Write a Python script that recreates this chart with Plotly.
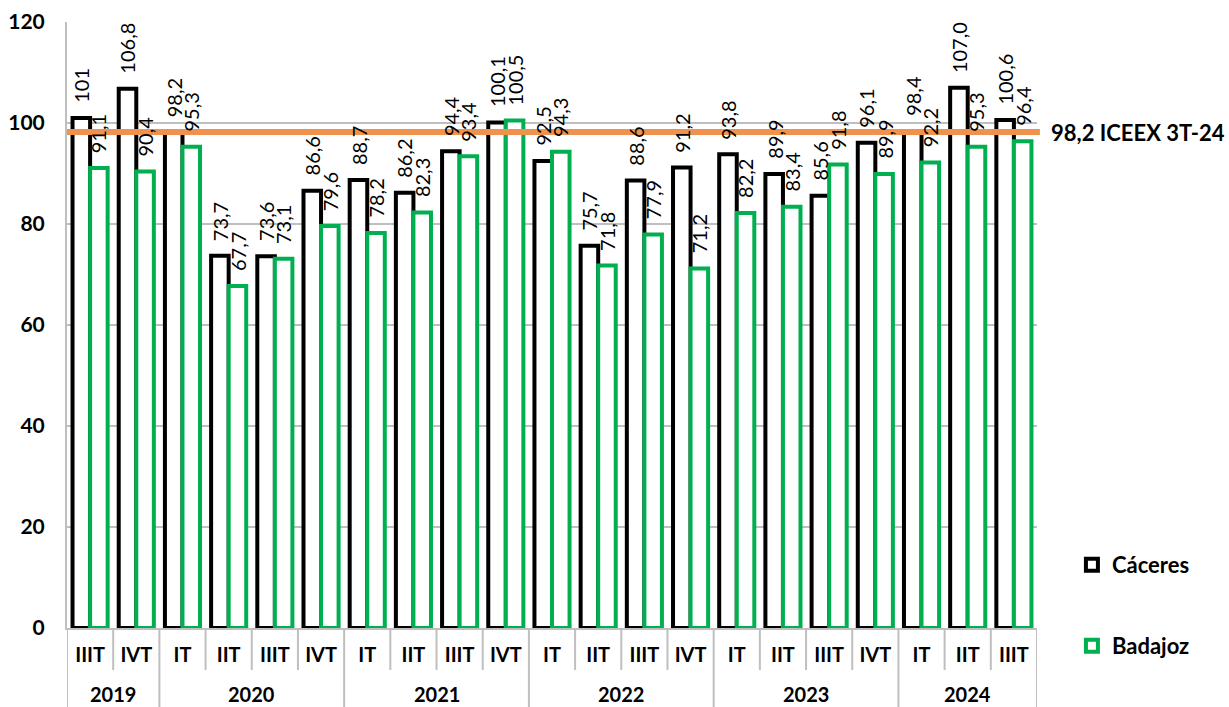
import plotly.graph_objects as go

years = ["2019"] * 2 + ["2020"] * 4 + ["2021"] * 4 + ["2022"] * 4 + ["2023"] * 4 + ["2024"] * 3
quarters = ["IIIT", "IVT",
            "IT", "IIT", "IIIT", "IVT",
            "IT", "IIT", "IIIT", "IVT",
            "IT", "IIT", "IIIT", "IVT",
            "IT", "IIT", "IIIT", "IVT",
            "IT", "IIT", "IIIT"]
caceres = [101, 106.8, 98.2, 73.7, 73.6, 86.6, 88.7, 86.2, 94.4, 100.1, 92.5,
           75.7, 88.6, 91.2, 93.8, 89.9, 85.6, 96.1, 98.4, 107.0, 100.6]
badajoz = [91.1, 90.4, 95.3, 67.7, 73.1, 79.6, 78.2, 82.3, 93.4, 100.5, 94.3,
           71.8, 77.9, 71.2, 82.2, 83.4, 91.8, 89.9, 92.2, 95.3, 96.4]
caceres_labels = ["101"] + [f"{v:.1f}".replace(".", ",") for v in caceres[1:]]
badajoz_labels = [f"{v:.1f}".replace(".", ",") for v in badajoz]
iceex_value = 98.2
iceex_label = "98,2 ICEEX 3T-24"

FONT = "Lato"
GREEN = "#00B050"
GRID = "#BFBFBF"
PLOT_H = 606  # px height of the plot area
BAR_W = 0.38

# unique category ids, shown with the quarter names
cats = [f"{y}-{q}" for y, q in zip(years, quarters)]

fig = go.Figure()
series = [("Cáceres", caceres, caceres_labels, "black", -BAR_W, "legend"),
          ("Badajoz", badajoz, badajoz_labels, GREEN, 0, "legend2")]
for name, vals, labels, color, offset, leg in series:
    fig.add_trace(go.Bar(
        x=cats, y=vals, name=name, width=BAR_W, offset=offset,
        marker=dict(color="white", line=dict(color=color, width=4)),
        legend=leg,
    ))
    # value labels as annotations so they sit above the reference line
    for k, (v, t) in enumerate(zip(vals, labels)):
        fig.add_annotation(x=k + offset + BAR_W / 2, y=v, text=t, textangle=-90,
                           showarrow=False, yanchor="bottom", yshift=13,
                           font=dict(family=FONT, size=20, color="black"))

# reference line
fig.add_shape(type="line", xref="paper", x0=0, x1=1.003, yref="y",
              y0=iceex_value, y1=iceex_value,
              line=dict(color="#F0924E", width=6), layer="above")
fig.add_annotation(xref="paper", x=1.012, yref="y", y=iceex_value,
                   text=f"<b>{iceex_label}</b>", showarrow=False,
                   xanchor="left", yanchor="middle",
                   font=dict(family=FONT, size=22, color="black"))

# separators below the axis: short between quarters, long between years
for k in range(len(cats) + 1):
    new_year = k == 0 or k == len(cats) or years[k] != years[k - 1]
    depth = 79 / PLOT_H if new_year else 42 / PLOT_H
    fig.add_shape(type="line", xref="x", x0=k - 0.5, x1=k - 0.5,
                  yref="paper", y0=0, y1=-depth,
                  line=dict(color=GRID, width=2))

# year labels
start = 0
for k in range(1, len(cats) + 1):
    if k == len(cats) or years[k] != years[start]:
        fig.add_annotation(xref="x", x=(start + k - 1) / 2, yref="paper",
                           y=-(694 - 628) / PLOT_H, text=f"<b>{years[start]}</b>",
                           showarrow=False, yanchor="middle",
                           font=dict(family=FONT, size=20, color="black"))
        start = k

legend_style = dict(font=dict(family=FONT, size=22, color="black", weight="bold"),
                    xanchor="left", yanchor="middle", bgcolor="rgba(0,0,0,0)")
fig.update_layout(
    width=1229, height=707,
    margin=dict(l=67, r=192, t=22, b=79),
    paper_bgcolor="white", plot_bgcolor="white",
    barmode="overlay",
    showlegend=True,
    legend=dict(x=1.036, y=(628 - 565) / PLOT_H, **legend_style),
    legend2=dict(x=1.036, y=(628 - 646) / PLOT_H, **legend_style),
    font=dict(family=FONT, color="black"),
)
fig.update_yaxes(range=[0, 120], dtick=20, showgrid=True, gridcolor=GRID,
                 gridwidth=2, showline=True, linecolor=GRID, linewidth=2,
                 zeroline=False, automargin=False, ticks="",
                 tickfont=dict(family=FONT, size=21, weight="bold"),
                 ticklabelstandoff=16)
fig.update_xaxes(type="category", showline=True, linecolor=GRID, linewidth=2,
                 ticks="", automargin=False, tickmode="array",
                 tickvals=cats, ticktext=quarters, tickangle=0,
                 ticklabelstandoff=8, range=[-0.5, len(cats) - 0.5],
                 tickfont=dict(family=FONT, size=20, weight="bold"))

fig.write_html("out.html", config={"displayModeBar": False},
               post_script="document.body.style.margin='0';")
